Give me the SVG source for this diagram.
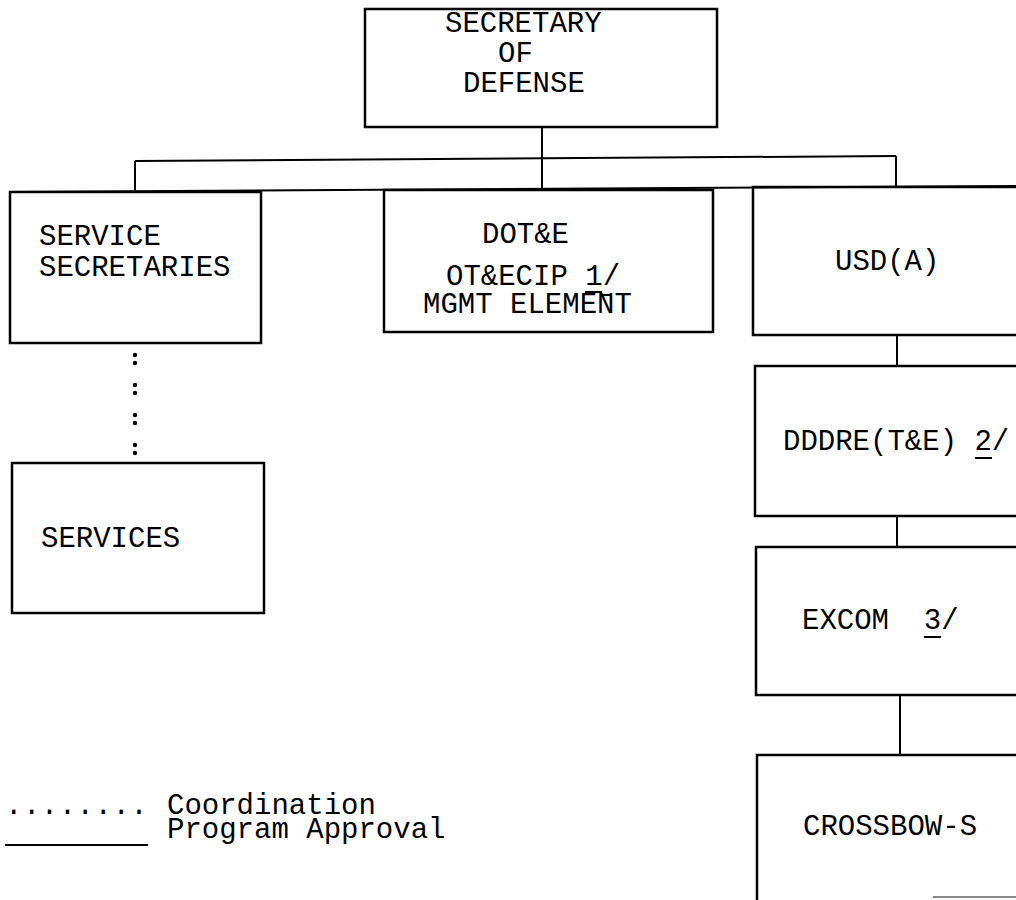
<svg xmlns="http://www.w3.org/2000/svg" width="1016" height="900" viewBox="0 0 1016 900">
<style>
.box{fill:none;stroke:#000;stroke-width:2.5}
.ln{fill:none;stroke:#000;stroke-width:2}
.t{font-family:"Liberation Mono","Courier New",monospace;font-size:29px;fill:#000}
.dot{fill:#000}
</style>
<rect width="1016" height="900" fill="#fff"/>
<g id="connectors">
<line class="ln" x1="542" y1="127" x2="542" y2="190"/>
<line class="ln" x1="135" y1="161" x2="896" y2="156"/>
<line class="ln" x1="135" y1="161" x2="135" y2="192"/>
<line class="ln" x1="896" y1="156" x2="896" y2="187"/>
<line class="ln" x1="10" y1="192" x2="1016" y2="186"/>
<line class="ln" x1="897" y1="335" x2="897" y2="366"/>
<line class="ln" x1="897" y1="516" x2="897" y2="547"/>
<line class="ln" x1="900" y1="695" x2="900" y2="755"/>
<g id="coordination-dots">
<circle class="dot" cx="135" cy="355" r="2.2"/><circle class="dot" cx="135" cy="363" r="2.2"/>
<circle class="dot" cx="135" cy="385" r="2.2"/><circle class="dot" cx="135" cy="393" r="2.2"/>
<circle class="dot" cx="135" cy="415" r="2.2"/><circle class="dot" cx="135" cy="423" r="2.2"/>
<circle class="dot" cx="135" cy="445" r="2.2"/><circle class="dot" cx="135" cy="453" r="2.2"/>
</g>
</g>
<g id="secdef">
<rect class="box" x="365" y="9" width="352" height="118" stroke-width="3"/>
<text class="t" x="445" y="32">SECRETARY</text>
<text class="t" x="498" y="62">OF</text>
<text class="t" x="463" y="92">DEFENSE</text>
</g>
<g id="service-secretaries">
<rect class="box" x="10" y="192" width="251" height="151"/>
<text class="t" x="39" y="245">SERVICE</text>
<text class="t" x="39" y="276">SECRETARIES</text>
</g>
<g id="services">
<rect class="box" x="12" y="463" width="252" height="150"/>
<text class="t" x="41" y="547">SERVICES</text>
</g>
<g id="dote">
<rect class="box" x="384" y="190" width="329" height="142"/>
<text class="t" x="482" y="243">DOT&amp;E</text>
<text class="t" x="446" y="285">OT&amp;ECIP 1/</text>
<line class="ln" x1="585" y1="292" x2="602" y2="292"/>
<text class="t" x="423" y="313">MGMT ELEMENT</text>
<line class="ln" x1="600" y1="295" x2="610" y2="295"/>
</g>
<g id="usda">
<path class="box" d="M1018,187 H753 V335 H1018"/>
<text class="t" x="835" y="270">USD(A)</text>
</g>
<g id="dddre">
<path class="box" d="M1018,366 H755 V516 H1018"/>
<text class="t" x="783" y="450">DDDRE(T&amp;E) 2/</text>
<line class="ln" x1="975" y1="458" x2="992" y2="458"/>
</g>
<g id="excom">
<path class="box" d="M1018,547 H756 V695 H1018"/>
<text class="t" x="802" y="629" xml:space="preserve">EXCOM  3/</text>
<line class="ln" x1="924" y1="637" x2="941" y2="637"/>
</g>
<g id="crossbow">
<path class="box" d="M1018,755 H757 V900"/>
<line x1="933" y1="897" x2="1016" y2="897" stroke="#888" stroke-width="2"/>
<text class="t" x="803" y="835">CROSSBOW-S</text>
</g>
<g id="legend">
<text class="t" x="5" y="814" letter-spacing="0.5">........</text>
<text class="t" x="167" y="814">Coordination</text>
<text class="t" x="167" y="838">Program Approval</text>
<line class="ln" x1="5" y1="845" x2="148" y2="845"/>
</g>
</svg>
